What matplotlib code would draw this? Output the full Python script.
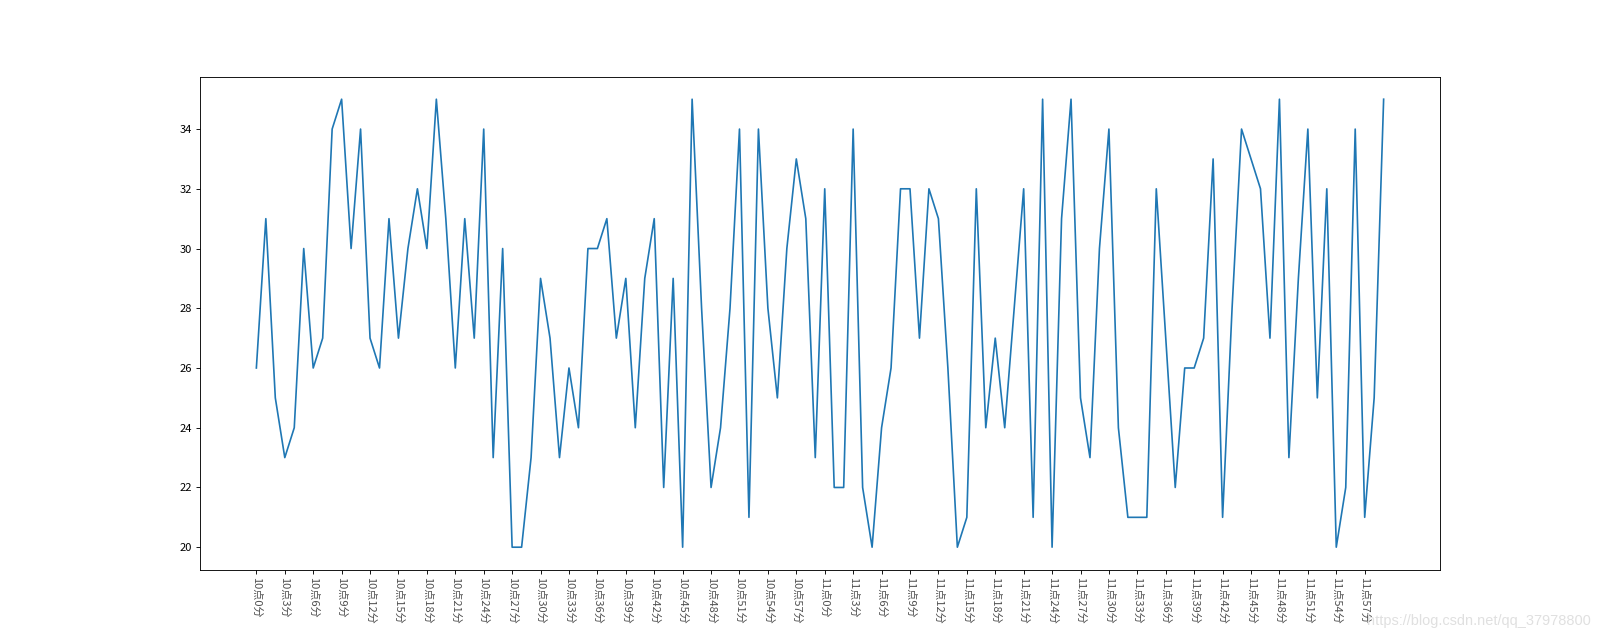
import matplotlib
matplotlib.use("Agg")
import matplotlib.pyplot as plt

plt.rcParams['font.family'] = ['Noto Sans CJK SC', 'DejaVu Sans']

# temperature per minute, 10:00 .. 11:59
temps = [26, 31, 25, 23, 24, 30, 26, 27, 34, 35,
         30, 34, 27, 26, 31, 27, 30, 32, 30, 35,
         31, 26, 31, 27, 34, 23, 30, 20, 20, 23,
         29, 27, 23, 26, 24, 30, 30, 31, 27, 29,
         24, 29, 31, 22, 29, 20, 35, 28, 22, 24,
         28, 34, 21, 34, 28, 25, 30, 33, 31, 23,
         32, 22, 22, 34, 22, 20, 24, 26, 32, 32,
         27, 32, 31, 26, 20, 21, 32, 24, 27, 24,
         28, 32, 21, 35, 20, 31, 35, 25, 23, 30,
         34, 24, 21, 21, 21, 32, 27, 22, 26, 26,
         27, 33, 21, 28, 34, 33, 32, 27, 35, 23,
         29, 34, 25, 32, 20, 22, 34, 21, 25, 35]

x = list(range(len(temps)))
xtick_labels = ["10点{}分".format(i) for i in range(60)] + ["11点{}分".format(i) for i in range(60)]

fig = plt.figure(figsize=(20, 8), dpi=80)
plt.plot(x, temps)
plt.xticks(x[::3], xtick_labels[::3], rotation=270)
plt.tick_params(axis='x', labelcolor='#505050')

fig.text(0.994, 0.03, "https://blog.csdn.net/qq_37978800", ha='right', va='center',
         fontsize=13, color='#e0e0e0', family=['Liberation Sans'])

plt.savefig("out.png", dpi=80)
